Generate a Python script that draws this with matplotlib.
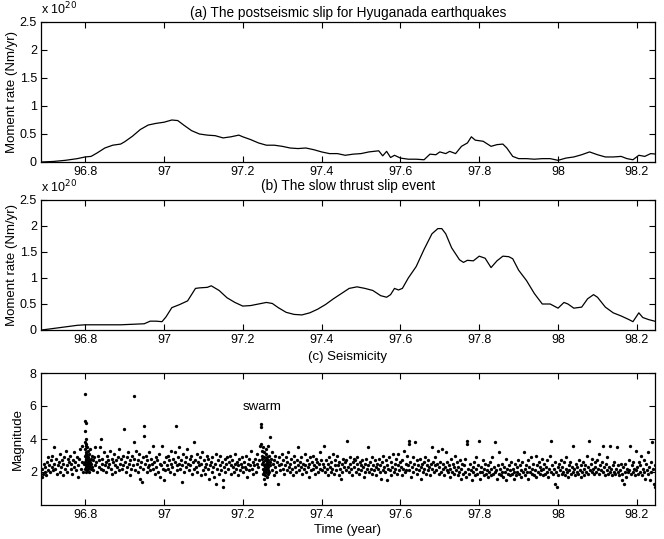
import matplotlib
matplotlib.use("Agg")
import matplotlib.pyplot as plt
import numpy as np

plt.rcParams['font.family'] = ['Liberation Sans', 'DejaVu Sans']
plt.rcParams['font.size'] = 9

# ---------------- data ----------------
# (a) postseismic slip, moment rate in units of 1e20 Nm/yr
post_time = [96.690, 96.72, 96.75, 96.78, 96.80, 96.815, 96.83, 96.85, 96.87, 96.89, 96.90,
             96.92, 96.94, 96.96, 96.98, 97.00, 97.02, 97.035, 97.05, 97.07, 97.09, 97.11,
             97.13, 97.15, 97.17, 97.19, 97.20, 97.22, 97.24, 97.26, 97.28, 97.30, 97.32,
             97.34, 97.36, 97.38, 97.40, 97.42, 97.44, 97.46, 97.48, 97.50, 97.52, 97.545,
             97.555, 97.565, 97.575, 97.585, 97.60, 97.62, 97.64, 97.66, 97.675, 97.69,
             97.70, 97.715, 97.725, 97.74, 97.755, 97.77, 97.78, 97.79, 97.81, 97.83, 97.845,
             97.86, 97.87, 97.885, 97.90, 97.92, 97.94, 97.96, 97.98, 98.00, 98.02, 98.04,
             98.06, 98.08, 98.10, 98.12, 98.14, 98.16, 98.175, 98.19, 98.205, 98.22, 98.235, 98.25]
post_rate = [0.00, 0.01, 0.03, 0.06, 0.09, 0.10, 0.16, 0.25, 0.30, 0.32, 0.36,
             0.46, 0.58, 0.66, 0.69, 0.71, 0.75, 0.74, 0.66, 0.56, 0.50, 0.48,
             0.47, 0.43, 0.45, 0.48, 0.45, 0.40, 0.34, 0.30, 0.30, 0.28, 0.25,
             0.24, 0.25, 0.22, 0.18, 0.15, 0.15, 0.12, 0.14, 0.15, 0.18, 0.20,
             0.11, 0.19, 0.08, 0.12, 0.07, 0.05, 0.05, 0.04, 0.14, 0.13,
             0.18, 0.15, 0.19, 0.15, 0.28, 0.34, 0.45, 0.39, 0.37, 0.28, 0.31,
             0.32, 0.25, 0.10, 0.06, 0.06, 0.05, 0.06, 0.06, 0.03, 0.07, 0.09,
             0.13, 0.18, 0.13, 0.09, 0.09, 0.10, 0.06, 0.04, 0.12, 0.10, 0.15, 0.14]

# (b) slow thrust slip event, moment rate in units of 1e20 Nm/yr
slow_time = [96.690, 96.72, 96.75, 96.78, 96.80, 96.83, 96.86, 96.89, 96.92, 96.95, 96.965,
             96.98, 96.995, 97.005, 97.02, 97.04, 97.06, 97.08, 97.09, 97.11, 97.12, 97.14,
             97.16, 97.18, 97.20, 97.22, 97.24, 97.26, 97.275, 97.29, 97.31, 97.33, 97.35,
             97.37, 97.39, 97.41, 97.43, 97.45, 97.47, 97.49, 97.51, 97.53, 97.55, 97.565,
             97.575, 97.585, 97.595, 97.605, 97.62, 97.64, 97.66, 97.68, 97.695, 97.705,
             97.715, 97.73, 97.75, 97.76, 97.77, 97.785, 97.80, 97.815, 97.83, 97.845, 97.86,
             97.875, 97.885, 97.90, 97.92, 97.94, 97.96, 97.98, 98.00, 98.015, 98.025,
             98.04, 98.06, 98.075, 98.09, 98.10, 98.12, 98.14, 98.16, 98.18, 98.19,
             98.205, 98.215, 98.23, 98.25]
slow_rate = [0.00, 0.03, 0.06, 0.09, 0.10, 0.10, 0.10, 0.10, 0.11, 0.12, 0.17,
             0.17, 0.16, 0.25, 0.43, 0.49, 0.56, 0.80, 0.81, 0.82, 0.85, 0.76,
             0.62, 0.53, 0.46, 0.47, 0.50, 0.53, 0.51, 0.43, 0.34, 0.30, 0.29,
             0.33, 0.40, 0.49, 0.60, 0.70, 0.80, 0.83, 0.80, 0.76, 0.66, 0.63,
             0.68, 0.80, 0.77, 0.80, 1.00, 1.22, 1.55, 1.85, 1.95, 1.95,
             1.85, 1.58, 1.35, 1.30, 1.34, 1.33, 1.42, 1.38, 1.20, 1.33, 1.42,
             1.41, 1.37, 1.15, 0.95, 0.70, 0.50, 0.50, 0.42, 0.53, 0.50,
             0.42, 0.44, 0.60, 0.68, 0.63, 0.44, 0.33, 0.27, 0.20, 0.16,
             0.33, 0.24, 0.20, 0.16]

# (c) seismicity: (time, magnitude)
quakes = [
    (96.690,1.7),(96.691,2.2),(96.693,1.9),(96.695,2.5),(96.697,2.0),(96.699,2.3),(96.701,1.8),(96.703,2.6),(96.705,2.1),(96.707,2.9),(96.709,2.4),
    (96.711,2.0),(96.713,2.7),(96.715,2.3),(96.716,3.0),(96.718,2.1),(96.720,2.5),(96.722,3.5),(96.724,2.2),(96.726,2.8),(96.728,1.9),
    (96.731,2.4),(96.733,2.6),(96.735,2.0),(96.737,3.1),(96.739,2.3),(96.741,2.7),(96.743,1.8),(96.745,2.5),(96.747,2.9),(96.749,2.2),
    (96.751,3.3),(96.753,2.4),(96.755,2.0),(96.757,2.8),(96.759,2.6),(96.761,3.0),(96.763,2.2),(96.765,2.5),(96.767,1.9),(96.769,2.7),
    (96.771,2.3),(96.773,3.2),(96.775,2.6),(96.777,2.1),(96.779,2.9),(96.781,2.4),(96.783,1.7),(96.785,2.8),(96.787,3.4),(96.789,2.2),(96.791,2.6),(96.793,3.6),(96.795,2.0),(96.797,2.5),
    (96.800,6.7),(96.800,5.1),(96.801,5.0),(96.800,4.5),(96.801,4.0),(96.800,3.8),(96.801,3.6),(96.800,3.4),(96.802,3.2),(96.800,3.0),(96.801,2.8),(96.800,2.6),(96.802,2.4),(96.800,2.2),(96.801,2.0),
    (96.803,3.7),(96.803,3.1),(96.803,2.7),(96.803,2.3),(96.803,2.9),(96.804,3.5),(96.805,2.5),(96.805,2.1),(96.805,3.0),(96.806,2.8),(96.806,2.4),(96.807,3.3),(96.807,2.6),(96.808,2.2),(96.808,2.9),
    (96.809,2.5),(96.809,3.1),(96.810,2.3),(96.810,2.7),(96.811,2.0),(96.812,2.6),(96.812,3.4),(96.813,2.4),(96.814,2.8),(96.815,2.2),(96.816,2.5),(96.817,3.0),(96.818,2.3),(96.819,2.7),
    (96.821,2.1),(96.823,2.9),(96.824,3.5),(96.826,2.4),(96.828,2.6),(96.830,2.0),(96.832,3.0),(96.834,2.3),(96.836,2.7),(96.838,3.5),(96.839,2.2),
    (96.841,4.0),(96.842,2.5),(96.844,2.8),(96.846,2.1),(96.848,3.2),(96.850,2.4),(96.852,2.6),(96.854,2.0),(96.856,3.0),(96.858,2.3),(96.859,2.7),
    (96.861,2.5),(96.863,3.3),(96.865,2.2),(96.867,2.8),(96.869,1.9),(96.871,2.6),(96.873,3.1),(96.875,2.4),(96.877,2.0),(96.879,2.7),
    (96.881,2.3),(96.883,2.9),(96.885,3.4),(96.887,2.1),(96.889,2.5),(96.891,2.8),(96.893,2.2),(96.895,3.0),(96.897,2.4),(96.899,4.6),
    (96.901,2.6),(96.903,2.0),(96.905,2.9),(96.907,2.3),(96.909,3.2),(96.911,2.5),(96.913,1.8),(96.915,2.7),(96.917,2.2),(96.919,3.0),
    (96.921,2.4),(96.923,6.6),(96.924,3.8),(96.925,2.8),(96.927,2.1),(96.929,3.3),(96.931,2.5),(96.933,2.0),(96.935,2.7),(96.937,3.1),(96.939,2.3),(96.940,1.6),
    (96.942,2.6),(96.944,1.4),(96.946,2.9),(96.948,2.2),(96.950,4.8),(96.950,4.2),(96.952,2.5),(96.954,3.0),(96.956,2.0),(96.958,2.7),(96.959,2.3),
    (96.961,3.2),(96.963,2.4),(96.965,2.1),(96.967,2.8),(96.969,2.5),(96.971,3.6),(96.973,2.2),(96.975,2.6),(96.977,1.9),(96.979,2.9),
    (96.981,2.3),(96.983,2.7),(96.985,2.0),(96.987,3.1),(96.989,2.5),(96.991,1.7),(96.993,2.4),(96.995,3.6),(96.997,2.2),(96.999,1.5),
    (97.001,2.6),(97.003,2.1),(97.005,2.9),(97.007,2.4),(97.009,3.0),(97.011,2.2),(97.013,2.7),(97.015,2.0),(97.017,3.3),(97.019,2.5),
    (97.021,2.3),(97.023,2.8),(97.025,1.9),(97.027,2.6),(97.029,3.2),(97.030,4.8),(97.032,2.4),(97.034,2.1),(97.036,2.9),(97.038,2.5),(97.039,3.5),
    (97.041,2.2),(97.043,2.7),(97.045,1.4),(97.047,2.4),(97.049,3.1),(97.051,2.0),(97.053,2.6),(97.055,2.9),(97.057,2.3),(97.059,3.4),
    (97.061,2.5),(97.063,2.1),(97.065,2.8),(97.067,2.4),(97.069,3.0),(97.071,1.9),(97.073,2.6),(97.075,3.8),(97.077,2.2),(97.079,2.7),
    (97.081,2.3),(97.083,3.1),(97.085,2.0),(97.087,2.6),(97.089,2.4),(97.091,2.9),(97.093,1.8),(97.095,2.5),(97.097,3.2),(97.099,2.1),
    (97.101,2.7),(97.103,2.3),(97.105,1.9),(97.107,2.5),(97.109,3.0),(97.111,2.2),(97.113,2.8),(97.115,1.6),(97.117,2.4),(97.119,2.6),
    (97.121,2.0),(97.123,2.9),(97.125,2.3),(97.127,1.7),(97.129,2.5),(97.131,3.1),(97.133,1.3),(97.135,2.2),(97.137,2.7),(97.139,1.9),
    (97.141,2.4),(97.143,3.0),(97.145,2.1),(97.147,2.6),(97.149,1.5),(97.150,1.1),(97.152,2.3),(97.154,2.8),(97.156,2.0),(97.158,2.5),
    (97.161,2.9),(97.163,2.2),(97.165,2.6),(97.167,3.0),(97.169,2.4),(97.171,1.9),(97.173,2.7),(97.175,2.3),(97.177,2.0),(97.179,2.5),
    (97.181,3.1),(97.183,2.2),(97.185,2.6),(97.187,1.8),(97.189,2.4),(97.191,2.8),(97.193,2.1),(97.195,2.5),(97.197,2.9),(97.199,2.3),
    (97.201,2.0),(97.203,2.6),(97.205,2.3),(97.207,3.0),(97.209,2.2),(97.211,1.7),(97.213,2.5),(97.215,2.8),(97.217,2.1),(97.219,2.4),
    (97.221,3.3),(97.223,2.2),(97.225,2.6),(97.227,1.9),(97.229,2.4),(97.231,2.8),(97.233,2.0),(97.235,2.5),(97.237,3.1),(97.239,2.3),(97.241,2.7),(97.243,3.6),
    (97.245,4.9),(97.246,4.7),(97.247,3.7),(97.248,3.3),(97.249,3.0),(97.250,2.8),(97.250,2.5),(97.251,2.2),(97.251,1.9),(97.252,3.5),(97.252,2.6),(97.253,2.1),
    (97.253,1.6),(97.254,2.9),(97.254,2.4),(97.255,2.0),(97.255,3.2),(97.256,2.7),(97.256,1.3),(97.257,2.3),(97.257,1.8),(97.258,3.1),(97.258,2.5),(97.259,2.0),
    (97.259,2.8),(97.260,2.2),(97.260,3.4),(97.261,2.6),(97.261,1.7),(97.262,2.4),(97.262,2.9),(97.263,2.1),(97.263,3.6),(97.264,2.5),(97.264,1.9),(97.265,2.7),
    (97.265,2.3),(97.267,3.0),(97.267,2.0),(97.268,2.6),(97.270,4.1),(97.270,2.4),(97.272,2.8),(97.273,2.1),(97.275,3.2),(97.276,2.5),(97.278,1.8),(97.279,2.7),
    (97.281,2.3),(97.283,3.0),(97.285,2.0),(97.287,2.6),(97.289,1.3),(97.291,2.4),(97.293,2.9),(97.295,2.1),(97.297,2.5),(97.299,3.1),
    (97.301,2.2),(97.303,2.7),(97.305,1.9),(97.307,2.4),(97.309,2.9),(97.311,2.1),(97.313,2.6),(97.315,3.2),(97.317,2.3),(97.319,2.0),
    (97.321,2.5),(97.323,2.8),(97.325,2.2),(97.327,1.8),(97.329,2.6),(97.331,3.0),(97.333,2.3),(97.335,2.0),(97.337,2.7),(97.339,2.4),
    (97.341,3.5),(97.343,2.1),(97.345,2.6),(97.347,2.3),(97.349,2.9),(97.351,1.9),(97.353,2.5),(97.355,2.2),(97.357,3.1),(97.359,2.4),
    (97.361,2.0),(97.363,2.7),(97.365,2.3),(97.367,1.7),(97.369,2.5),(97.371,2.9),(97.373,2.1),(97.375,2.6),(97.377,3.0),(97.379,2.2),
    (97.381,2.4),(97.383,1.9),(97.385,2.8),(97.387,2.3),(97.389,2.6),(97.391,2.0),(97.393,2.5),(97.395,3.2),(97.397,2.2),(97.399,2.7),
    (97.401,2.1),(97.403,2.5),(97.405,2.3),(97.407,3.6),(97.409,2.0),(97.411,2.7),(97.413,2.2),(97.415,1.8),(97.417,2.5),(97.419,2.9),
    (97.421,2.3),(97.423,2.0),(97.425,2.6),(97.427,2.2),(97.429,3.1),(97.431,1.9),(97.433,2.4),(97.435,2.7),(97.437,2.1),(97.439,3.0),
    (97.441,2.4),(97.443,1.8),(97.445,2.6),(97.447,2.2),(97.449,1.6),(97.451,2.5),(97.453,2.0),(97.455,2.8),(97.457,2.3),(97.459,2.6),
    (97.461,2.1),(97.463,2.7),(97.465,3.9),(97.467,2.3),(97.469,2.0),(97.471,2.5),(97.473,2.9),(97.475,2.2),(97.477,1.8),(97.479,2.6),
    (97.481,2.8),(97.483,2.3),(97.485,2.7),(97.487,2.0),(97.489,2.5),(97.491,2.9),(97.493,2.2),(97.495,1.9),(97.497,2.6),(97.499,2.4),
    (97.501,2.1),(97.503,2.7),(97.505,2.3),(97.507,1.7),(97.509,2.5),(97.511,2.0),(97.513,2.8),(97.515,2.2),(97.517,3.5),(97.519,2.4),
    (97.521,2.0),(97.523,2.6),(97.525,2.2),(97.527,2.9),(97.529,1.9),(97.531,2.4),(97.533,2.1),(97.535,2.7),(97.537,2.3),(97.539,1.8),
    (97.541,2.5),(97.543,2.2),(97.545,2.8),(97.547,2.0),(97.549,2.4),(97.551,1.6),(97.553,2.6),(97.555,2.1),(97.557,3.0),(97.559,2.3),
    (97.561,2.0),(97.563,2.7),(97.565,1.5),(97.567,2.4),(97.569,2.2),(97.571,2.9),(97.573,2.1),(97.575,2.6),(97.577,1.8),(97.579,2.3),
    (97.581,3.1),(97.583,2.0),(97.585,2.5),(97.587,2.2),(97.589,2.8),(97.591,1.9),(97.593,2.4),(97.595,3.1),(97.597,2.1),(97.599,2.6),
    (97.601,2.3),(97.603,1.8),(97.605,2.7),(97.607,2.2),(97.609,3.3),(97.611,2.0),(97.613,2.5),(97.615,2.1),(97.617,3.0),(97.619,2.4),
    (97.621,3.9),(97.622,3.7),(97.623,2.1),(97.625,2.6),(97.627,1.7),(97.629,2.3),(97.631,2.9),(97.633,2.0),(97.635,2.5),(97.637,3.8),(97.639,2.2),
    (97.641,2.7),(97.643,1.9),(97.645,2.4),(97.647,2.1),(97.649,2.8),(97.651,2.3),(97.653,1.6),(97.655,2.5),(97.657,2.0),(97.659,2.6),
    (97.661,2.2),(97.663,2.9),(97.665,1.9),(97.667,2.4),(97.669,2.1),(97.671,2.7),(97.673,2.3),(97.675,1.8),(97.677,2.5),(97.679,3.5),
    (97.681,2.2),(97.683,2.6),(97.685,2.0),(97.687,2.4),(97.689,2.9),(97.691,2.1),(97.693,2.5),(97.695,3.3),(97.697,1.9),(97.699,2.3),
    (97.701,2.6),(97.703,2.0),(97.705,3.4),(97.707,2.2),(97.709,2.5),(97.711,1.8),(97.713,2.3),(97.715,3.2),(97.717,2.1),(97.719,2.6),
    (97.721,2.0),(97.723,2.4),(97.725,1.7),(97.727,2.2),(97.729,2.8),(97.731,2.0),(97.733,2.5),(97.735,1.9),(97.737,2.3),(97.739,3.0),
    (97.741,2.1),(97.743,2.6),(97.745,1.8),(97.747,2.3),(97.749,2.0),(97.751,2.7),(97.753,1.6),(97.755,2.2),(97.757,2.5),(97.759,1.9),
    (97.761,2.4),(97.763,2.0),(97.765,2.8),(97.767,1.7),(97.769,3.9),(97.770,3.7),(97.772,2.2),(97.774,1.9),(97.776,2.5),(97.778,2.1),
    (97.781,1.5),(97.783,2.3),(97.785,2.0),(97.787,2.6),(97.789,1.8),(97.791,2.2),(97.793,2.9),(97.795,1.9),(97.797,2.4),(97.799,3.9),
    (97.801,2.0),(97.803,1.6),(97.805,2.3),(97.807,2.0),(97.809,2.7),(97.811,1.8),(97.813,2.2),(97.815,2.5),(97.817,1.9),(97.819,2.1),
    (97.821,2.4),(97.823,1.7),(97.825,2.0),(97.827,2.6),(97.829,1.8),(97.831,2.2),(97.833,2.9),(97.835,1.9),(97.837,2.3),(97.839,2.0),
    (97.841,3.8),(97.843,2.1),(97.845,1.6),(97.847,2.4),(97.849,1.9),(97.851,3.2),(97.853,2.2),(97.855,1.8),(97.857,2.5),(97.859,2.0),
    (97.861,1.7),(97.863,2.3),(97.865,2.0),(97.867,2.8),(97.869,1.5),(97.871,2.2),(97.873,1.9),(97.875,2.4),(97.877,2.1),(97.879,1.8),
    (97.881,2.6),(97.883,1.9),(97.885,2.2),(97.887,1.6),(97.889,2.0),(97.891,2.5),(97.893,1.8),(97.895,2.3),(97.897,2.0),(97.899,2.7),
    (97.901,1.9),(97.903,2.4),(97.905,2.1),(97.907,1.7),(97.909,2.6),(97.911,2.0),(97.913,3.2),(97.915,2.2),(97.917,1.8),(97.919,2.4),
    (97.921,2.0),(97.923,2.7),(97.925,1.6),(97.927,2.3),(97.929,2.0),(97.931,2.9),(97.933,1.9),(97.935,2.2),(97.937,2.5),(97.939,1.8),
    (97.941,2.1),(97.943,3.0),(97.945,1.7),(97.947,2.4),(97.949,2.0),(97.951,2.6),(97.953,1.9),(97.955,2.3),(97.957,2.1),(97.959,2.8),
    (97.961,1.8),(97.963,2.2),(97.965,2.5),(97.967,1.9),(97.969,2.3),(97.971,2.0),(97.973,2.7),(97.975,1.7),(97.977,2.2),(97.979,3.0),
    (97.981,3.9),(97.983,2.0),(97.985,2.4),(97.987,1.9),(97.989,2.2),(97.991,1.3),(97.993,2.6),(97.995,2.0),(97.997,1.1),(97.999,2.3),
    (98.001,1.8),(98.003,2.5),(98.005,2.1),(98.007,2.7),(98.009,1.9),(98.011,2.3),(98.013,2.0),(98.015,2.6),(98.017,1.8),(98.019,2.2),
    (98.021,2.9),(98.023,2.0),(98.025,1.7),(98.027,2.4),(98.029,2.1),(98.031,2.6),(98.033,1.9),(98.035,2.3),(98.037,2.0),(98.039,3.6),
    (98.041,2.2),(98.043,1.8),(98.045,2.5),(98.047,2.0),(98.049,2.3),(98.051,1.9),(98.053,2.7),(98.055,2.1),(98.057,1.7),(98.059,2.4),
    (98.061,2.0),(98.063,2.6),(98.065,2.2),(98.067,1.8),(98.069,2.4),(98.071,2.0),(98.073,3.0),(98.075,2.3),(98.077,1.9),(98.079,3.9),
    (98.081,2.1),(98.083,2.5),(98.085,2.0),(98.087,2.8),(98.089,2.2),(98.091,1.9),(98.093,2.6),(98.095,2.3),(98.097,2.0),(98.099,2.7),
    (98.101,2.2),(98.103,3.1),(98.105,1.9),(98.107,2.4),(98.109,2.1),(98.111,2.6),(98.113,3.6),(98.115,2.0),(98.117,2.3),(98.119,1.8),
    (98.121,2.5),(98.123,2.1),(98.125,2.9),(98.127,1.9),(98.129,2.3),(98.131,2.0),(98.133,3.6),(98.135,2.2),(98.137,1.8),(98.139,2.4),
    (98.141,2.0),(98.143,2.6),(98.145,1.9),(98.147,2.2),(98.149,3.5),(98.151,2.0),(98.153,2.4),(98.155,1.8),(98.157,2.1),(98.159,2.5),
    (98.161,1.9),(98.163,1.5),(98.165,2.3),(98.167,1.3),(98.169,2.0),(98.171,2.5),(98.173,1.7),(98.175,2.2),(98.177,2.0),(98.179,2.7),
    (98.181,2.1),(98.183,3.6),(98.185,1.9),(98.187,2.4),(98.189,2.0),(98.191,2.6),(98.193,2.2),(98.195,1.8),(98.197,3.3),(98.199,2.1),
    (98.201,2.3),(98.203,1.9),(98.205,2.6),(98.207,2.0),(98.209,2.4),(98.211,3.0),(98.213,1.8),(98.215,2.2),(98.217,2.7),(98.219,2.0),
    (98.221,1.6),(98.223,2.5),(98.225,2.1),(98.227,3.2),(98.229,1.9),(98.231,2.3),(98.233,1.5),(98.235,2.6),(98.237,2.0),(98.239,3.8),
    (98.241,2.2),(98.243,1.3),(98.245,2.4),(98.247,1.1),(98.249,2.0),
]
quake_time = [q[0] for q in quakes]
quake_mag = [q[1] for q in quakes]

x_ticks = [96.8, 97.0, 97.2, 97.4, 97.6, 97.8, 98.0, 98.2]
x_ticklabels = ['96.8', '97', '97.2', '97.4', '97.6', '97.8', '98', '98.2']
rate_ticks = [0, 0.5, 1, 1.5, 2, 2.5]
rate_ticklabels = ['0', '0.5', '1', '1.5', '2', '2.5']
mag_ticks = [2, 4, 6, 8]
mag_ticklabels = ['2', '4', '6', '8']

titles = ['(a) The postseismic slip for Hyuganada earthquakes',
          '(b) The slow thrust slip event',
          '(c) Seismicity']

# ---------------- figure ----------------
W, H = 664, 539
fig = plt.figure(figsize=(W / 100, H / 100), dpi=100)

def px_axes(top, bottom, left=41, right=655):
    return fig.add_axes([left / W, 1 - bottom / H, (right - left) / W, (bottom - top) / H])

ax_a = px_axes(22, 162)
ax_b = px_axes(200, 330)
ax_c = px_axes(373, 505)

xlim = (96.688, 98.246)
xc = (41 + 655) / 2 / W

def style(ax):
    ax.set_xlim(*xlim)
    ax.set_xticks(x_ticks)
    ax.set_xticklabels(x_ticklabels)
    ax.tick_params(direction='in', top=True, right=True, length=4, width=0.8,
                   labelsize=9, pad=3)
    for s in ax.spines.values():
        s.set_linewidth(0.9)

for ax, t, r, ttl, ty, ey in [(ax_a, post_time, post_rate, titles[0], 13, 9),
                              (ax_b, slow_time, slow_rate, titles[1], 186, 187)]:
    ax.plot(t, r, color='black', lw=0.9)
    style(ax)
    ax.set_ylim(0, 2.5)
    ax.set_yticks(rate_ticks)
    ax.set_yticklabels(rate_ticklabels)
    ax.set_ylabel('Moment rate (Nm/yr)', fontsize=9.5, labelpad=1)
    fig.text(xc, 1 - ty / H, ttl, ha='center', va='center', fontsize=9.8)
    fig.text(41 / W, 1 - ey / H, r'x 10$^{20}$', ha='left', va='center', fontsize=9)

ax_c.plot(quake_time, quake_mag, linestyle='none', marker='o', ms=2.4,
          mec='none', mfc='black')
style(ax_c)
ax_c.set_ylim(0, 8)
ax_c.set_yticks(mag_ticks)
ax_c.set_yticklabels(mag_ticklabels)
ax_c.set_ylabel('Magnitude', fontsize=9.5, labelpad=4)
fig.text(xc, 1 - 357 / H, titles[2], ha='center', va='center', fontsize=9.5)
ax_c.set_xlabel('Time (year)', fontsize=9.5, labelpad=2)
ax_c.text(97.25, 5.95, 'swarm', ha='center', va='center', fontsize=9.5)

fig.savefig('out.png', dpi=100)
